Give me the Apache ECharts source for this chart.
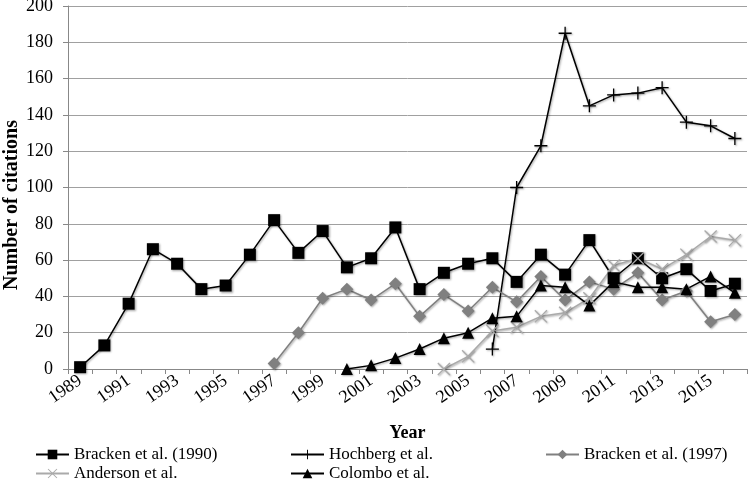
<!DOCTYPE html>
<html>
<head>
<meta charset="utf-8">
<script src="https://cdn.jsdelivr.net/npm/echarts@6/dist/echarts.min.js"></script>
<style>
  html, body { margin: 0; padding: 0; background: #fff; }
  #chart { width: 750px; height: 483px; }
</style>
</head>
<body>
<div id="chart"></div>
<script>
const years = ["1989", "1990", "1991", "1992", "1993", "1994", "1995", "1996", "1997", "1998",
  "1999", "2000", "2001", "2002", "2003", "2004", "2005", "2006", "2007", "2008",
  "2009", "2010", "2011", "2012", "2013", "2014", "2015", "2016"]

const bracken1990 = [1, 13, 36, 66, 58, 44, 46, 63, 82, 64,
  76, 56, 61, 78, 44, 53, 58, 61, 48, 63,
  52, 71, 50, 61, 50, 55, 43, 47]
const hochberg = [null, null, null, null, null, null, null, null, null, null,
  null, null, null, null, null, null, null, 11, 100, 123,
  185, 145, 151, 152, 155, 136, 134, 127]
const bracken1997 = [null, null, null, null, null, null, null, null, 3, 20,
  39, 44, 38, 47, 29, 41, 32, 45, 37, 51,
  38, 48, 44, 53, 38, 43, 26, 30]
const anderson = [null, null, null, null, null, null, null, null, null, null,
  null, null, null, null, null, 0, 7, 21, 23, 29,
  31, 39, 57, 61, 55, 63, 73, 71]
const colombo = [null, null, null, null, null, null, null, null, null, null,
  null, 0, 2, 6, 11, 17, 20, 28, 29, 46,
  45, 35, 48, 45, 45, 44, 51, 42]

const yTicks = { min: 0, max: 200, step: 20 }

const FONT = "Liberation Serif"
const PLUS = "path://M9,0H11V9H20V11H11V20H9V11H0V9H9Z"
const CROSS = "path://M1.4,0L10,8.6L18.6,0L20,1.4L11.4,10L20,18.6L18.6,20L10,11.4L1.4,20L0,18.6L8.6,10L0,1.4Z"

const shadow = {
  shadowColor: "rgba(0,0,0,0.35)",
  shadowBlur: 2,
  shadowOffsetX: 1,
  shadowOffsetY: 1,
}

function makeSeries(name, data, color, symbol, size) {
  return {
    name,
    type: "line",
    data,
    symbol,
    symbolSize: size,
    showAllSymbol: true,
    animation: false,
    lineStyle: { color, width: 1.5, ...shadow },
    itemStyle: { color, borderWidth: 0, ...shadow },
    emphasis: { disabled: true },
  }
}

function makeLegend(name, left, top) {
  return {
    data: [name],
    left,
    top,
    itemWidth: 33,
    itemHeight: 12,
    padding: 0,
    textStyle: { fontFamily: FONT, fontSize: 17, color: "#000" },
    selectedMode: false,
  }
}

const chart = echarts.init(document.getElementById("chart"))
chart.setOption({
  backgroundColor: "#fff",
  animation: false,
  grid: { left: 68, right: 3, top: 6, bottom: 114, outerBoundsMode: "none" },
  // y axis title, placed like the original (a bit below the plot's middle)
  graphic: [
    {
      type: "text",
      x: 12,
      y: 205,
      rotation: Math.PI / 2,
      style: {
        text: "Number of citations",
        fontFamily: FONT,
        fontSize: 20,
        fontWeight: "bold",
        fill: "#000",
        align: "center",
        verticalAlign: "middle",
      },
    },
  ],
  legend: [
    makeLegend("Bracken et al. (1990)", 35, 446),
    makeLegend("Hochberg et al.", 290, 446),
    makeLegend("Bracken et al. (1997)", 545, 446),
    makeLegend("Anderson et al.", 35, 465),
    makeLegend("Colombo et al.", 290, 465),
  ],
  xAxis: {
    type: "category",
    data: years,
    boundaryGap: true,
    name: "Year",
    nameLocation: "middle",
    nameGap: 55,
    nameTextStyle: { fontFamily: FONT, fontSize: 18, fontWeight: "bold", color: "#000" },
    axisLine: { lineStyle: { color: "#888", width: 1 } },
    axisTick: { show: true, interval: 0, length: 5, lineStyle: { color: "#888" } },
    axisLabel: {
      interval: 1,
      rotate: 35,
      margin: 10,
      fontFamily: FONT,
      fontSize: 18,
      color: "#000",
    },
    splitLine: { show: false },
  },
  yAxis: {
    type: "value",
    min: yTicks.min,
    max: yTicks.max,
    interval: yTicks.step,
    axisLine: { show: true, lineStyle: { color: "#888", width: 1 } },
    axisTick: { show: true, length: 5, lineStyle: { color: "#888" } },
    axisLabel: { margin: 15, fontFamily: FONT, fontSize: 18, color: "#000" },
    splitLine: { lineStyle: { color: "#a0a0a0", width: 1 } },
  },
  series: [
    makeSeries("Bracken et al. (1990)", bracken1990, "#000", "rect", 12),
    makeSeries("Hochberg et al.", hochberg, "#000", PLUS, 13),
    makeSeries("Bracken et al. (1997)", bracken1997, "#808080", "diamond", 13),
    makeSeries("Anderson et al.", anderson, "#aaaaaa", CROSS, 13),
    makeSeries("Colombo et al.", colombo, "#000", "triangle", 12),
  ],
})
</script>
</body>
</html>
